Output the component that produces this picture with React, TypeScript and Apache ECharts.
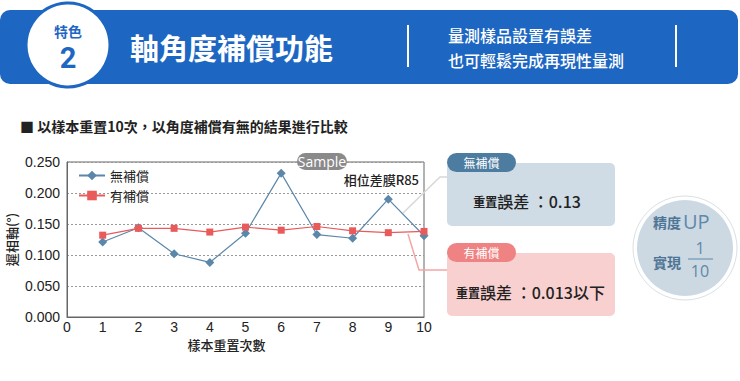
import React, { useEffect, useRef } from "react";
import * as echarts from "echarts";

// ---- data ----
const sampleIndex = [1, 2, 3, 4, 5, 6, 7, 8, 9, 10];
const withoutComp = [0.121, 0.144, 0.102, 0.088, 0.135, 0.232, 0.133, 0.127, 0.19, 0.131];
const withComp = [0.132, 0.143, 0.143, 0.137, 0.145, 0.14, 0.146, 0.139, 0.136, 0.138];
const seriesNames = ["無補償", "有補償"];
const xMin = 0;
const xMax = 10;
const yMin = 0;
const yMax = 0.25;
const yStep = 0.05;

const CJK = '"Noto Sans CJK TC", "Noto Sans", sans-serif';
const NUM = '"Liberation Sans", Arial, sans-serif';
const BANNER = "#1d66c2";
const BLUE = "#5b87aa";
const RED = "#e95a5a";

export default function App() {
  const ref = useRef<HTMLDivElement>(null);
  useEffect(() => {
    if (!ref.current) return;
    const chart = echarts.init(ref.current, null, { renderer: "svg" });
    const option: any = {
      animation: false,
      backgroundColor: "#fff",
      grid: {
        left: 67,
        top: 162,
        width: 357,
        height: 155,
        show: true,
        borderColor: "#666",
        borderWidth: 1,
        backgroundColor: "transparent",
      },
      legend: {
        data: seriesNames,
        orient: "vertical",
        left: 73,
        top: 164,
        itemWidth: 26,
        itemHeight: 12,
        itemGap: 7,
        textStyle: { fontSize: 13, color: "#222", fontFamily: CJK },
      },
      xAxis: {
        type: "value",
        min: xMin,
        max: xMax,
        interval: 1,
        axisLine: { show: true, lineStyle: { color: "#666" } },
        axisTick: { show: false },
        splitLine: { show: false },
        axisLabel: { fontSize: 14, color: "#222", margin: 3, fontFamily: NUM },
        name: "樣本重置次數",
        nameLocation: "middle",
        nameGap: 21,
        nameTextStyle: { fontSize: 13, color: "#222", fontFamily: CJK, fontWeight: 500, padding: [0, 38, 0, 0] },
      },
      yAxis: {
        type: "value",
        min: yMin,
        max: yMax,
        interval: yStep,
        axisLine: { show: true, lineStyle: { color: "#666" } },
        axisTick: { show: false },
        splitLine: { show: true, lineStyle: { color: "#999", type: [2, 2], width: 1 } },
        axisLabel: {
          fontSize: 14,
          color: "#222",
          margin: 7,
          fontFamily: NUM,
          formatter: (v: number) => v.toFixed(3),
        },
        name: "遲相軸(°)",
        nameLocation: "middle",
        nameGap: 49,
        nameTextStyle: { fontSize: 13, color: "#222", fontFamily: CJK, fontWeight: 500 },
      },
      series: [
        {
          name: seriesNames[0],
          type: "line",
          data: sampleIndex.map((x, i) => [x, withoutComp[i]]),
          symbol: "diamond",
          symbolSize: 9,
          lineStyle: { color: BLUE, width: 1.2 },
          itemStyle: { color: BLUE },
          z: 3,
        },
        {
          name: seriesNames[1],
          type: "line",
          data: sampleIndex.map((x, i) => [x, withComp[i]]),
          symbol: "rect",
          symbolSize: 7,
          lineStyle: { color: RED, width: 1.2 },
          itemStyle: { color: RED },
          z: 4,
        },
      ],
      graphic: [
        // banner
        { type: "rect", shape: { x: 0, y: 10, width: 738, height: 74, r: 10 }, style: { fill: BANNER } },
        { type: "circle", shape: { cx: 68, cy: 45, r: 42 }, style: { fill: "#fff", stroke: BANNER, lineWidth: 3 } },
        { type: "text", x: 68, y: 31, style: { text: "特色", fill: BANNER, font: `bold 14px ${CJK}`, align: "center", verticalAlign: "middle" } },
        { type: "text", x: 68, y: 58, style: { text: "2", fill: BANNER, font: `bold 29px "Roboto", ${NUM}`, align: "center", verticalAlign: "middle" } },
        { type: "text", x: 130, y: 47, style: { text: "軸角度補償功能", fill: "#fff", font: `bold 29px ${CJK}`, verticalAlign: "middle" } },
        { type: "line", shape: { x1: 408, y1: 25, x2: 408, y2: 67 }, style: { stroke: "#fff", lineWidth: 2 } },
        { type: "line", shape: { x1: 676, y1: 25, x2: 676, y2: 67 }, style: { stroke: "#fff", lineWidth: 2 } },
        { type: "text", x: 448, y: 35, style: { text: "量測樣品設置有誤差", fill: "#fff", font: `500 16px ${CJK}`, verticalAlign: "middle" } },
        { type: "text", x: 448, y: 60, style: { text: "也可輕鬆完成再現性量測", fill: "#fff", font: `500 16px ${CJK}`, verticalAlign: "middle" } },
        // section title
        { type: "text", x: 20, y: 126, style: { text: "■ 以樣本重置10次，以角度補償有無的結果進行比較", fill: "#222", font: `bold 14px ${CJK}`, verticalAlign: "middle" } },
        // sample pill & note
        { type: "rect", shape: { x: 297, y: 153, width: 50, height: 17, r: 8.5 }, style: { fill: "#8a8a8a" }, z: 10 },
        { type: "text", x: 322, y: 161.5, style: { text: "Sample", fill: "#fff", font: `14px "Open Sans", sans-serif`, align: "center", verticalAlign: "middle" }, z: 11 },
        { type: "text", x: 419, y: 179, style: { text: "相位差膜R85", fill: "#222", font: `500 13px ${CJK}`, align: "right", verticalAlign: "middle" }, z: 11 },
        // connectors
        { type: "polyline", shape: { points: [[403, 213], [440, 177], [447, 177]] }, style: { stroke: "#d8d8d8", lineWidth: 1.5, fill: "none" }, z: 1 },
        { type: "polyline", shape: { points: [[408, 234], [419, 270], [447, 270]] }, style: { stroke: "#f4a6a6", lineWidth: 1.5, fill: "none" }, z: 1 },
        // blue box
        { type: "rect", shape: { x: 447, y: 163, width: 168, height: 63, r: 5 }, style: { fill: "#cfdbe5" }, z: 5 },
        { type: "rect", shape: { x: 447, y: 153, width: 69, height: 19, r: 9.5 }, style: { fill: "#4d7ca1" }, z: 6 },
        { type: "text", x: 481.5, y: 162.5, style: { text: "無補償", fill: "#fff", font: `12px ${CJK}`, align: "center", verticalAlign: "middle" }, z: 7 },
        {
          type: "text", x: 527, y: 201, z: 7,
          style: {
            text: "{a|重置}{b|誤差 ：0.13}", align: "center", verticalAlign: "middle",
            rich: {
              a: { fontSize: 12, fontWeight: "bold", fontFamily: CJK, fill: "#222" },
              b: { fontSize: 16, fontFamily: CJK, fill: "#222", fontWeight: 500 },
            },
          },
        },
        // red box
        { type: "rect", shape: { x: 447, y: 253, width: 168, height: 63, r: 5 }, style: { fill: "#f9d0d0" }, z: 5 },
        { type: "rect", shape: { x: 447, y: 243, width: 69, height: 19, r: 9.5 }, style: { fill: "#ef8282" }, z: 6 },
        { type: "text", x: 481.5, y: 252.5, style: { text: "有補償", fill: "#fff", font: `12px ${CJK}`, align: "center", verticalAlign: "middle" }, z: 7 },
        {
          type: "text", x: 530.5, y: 292, z: 7,
          style: {
            text: "{a|重置}{b|誤差 ：0.013以下}", align: "center", verticalAlign: "middle",
            rich: {
              a: { fontSize: 12, fontWeight: "bold", fontFamily: CJK, fill: "#222" },
              b: { fontSize: 16, fontFamily: CJK, fill: "#222", fontWeight: 500 },
            },
          },
        },
        // circle badge
        { type: "circle", shape: { cx: 685, cy: 248, r: 52 }, style: { fill: "#fff", stroke: "#d8e0e6", lineWidth: 1 }, z: 5 },
        { type: "circle", shape: { cx: 685, cy: 248, r: 48 }, style: { fill: "#ccd9e3" }, z: 6 },
        { type: "text", x: 681, y: 222, style: { text: "精度", fill: "#4f7595", font: `bold 14px ${CJK}`, align: "right", verticalAlign: "middle" }, z: 7 },
        { type: "text", x: 683, y: 221, style: { text: "UP", fill: "#6088a8", font: `20px "Open Sans", sans-serif`, verticalAlign: "middle" }, z: 7 },
        { type: "text", x: 681, y: 262, style: { text: "實現", fill: "#4f7595", font: `bold 14px ${CJK}`, align: "right", verticalAlign: "middle" }, z: 7 },
        { type: "text", x: 700, y: 248, style: { text: "1", fill: "#6088a8", font: `16px "Open Sans", sans-serif`, align: "center", verticalAlign: "middle" }, z: 7 },
        { type: "line", shape: { x1: 688, y1: 259, x2: 713, y2: 259 }, style: { stroke: "#6088a8", lineWidth: 1 }, z: 7 },
        { type: "text", x: 700, y: 271, style: { text: "10", fill: "#6088a8", font: `16px "Open Sans", sans-serif`, align: "center", verticalAlign: "middle" }, z: 7 },
      ],
    };
    chart.setOption(option);
    return () => chart.dispose();
  }, []);
  return <div ref={ref} style={{ position: "fixed", left: 0, top: 0, width: 740, height: 381 }} />;
}
